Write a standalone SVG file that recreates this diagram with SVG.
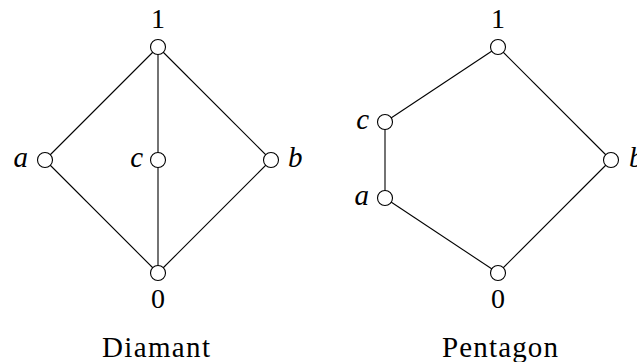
<svg xmlns="http://www.w3.org/2000/svg" width="637" height="362" viewBox="0 0 637 362">
<style>
.e{stroke:#000;stroke-width:1.1;fill:none}
.n{fill:#fff;stroke:#000;stroke-width:1.1}
.t{font-family:"Liberation Serif","Times New Roman",serif;font-size:28px;fill:#000}
.i{font-style:italic;font-size:29px}
.cap{font-size:29px}
</style>
<rect width="637" height="362" fill="#fff"/>
<g id="connectors">
<line class="e" x1="158" y1="47" x2="45" y2="160"/>
<line class="e" x1="158" y1="47" x2="158" y2="160"/>
<line class="e" x1="158" y1="47" x2="271" y2="160"/>
<line class="e" x1="45" y1="160" x2="158" y2="273"/>
<line class="e" x1="158" y1="160" x2="158" y2="273"/>
<line class="e" x1="271" y1="160" x2="158" y2="273"/>
<line class="e" x1="498" y1="47" x2="385" y2="122"/>
<line class="e" x1="385" y1="122" x2="385" y2="198"/>
<line class="e" x1="385" y1="198" x2="498" y2="273"/>
<line class="e" x1="498" y1="47" x2="611" y2="160"/>
<line class="e" x1="611" y1="160" x2="498" y2="273"/>
</g>
<g id="d1"><circle class="n" cx="158" cy="47" r="7.5"/><text class="t" x="158" y="28" text-anchor="middle">1</text></g>
<g id="da"><circle class="n" cx="45" cy="160" r="7.5"/><text class="t i" x="28" y="167" text-anchor="end">a</text></g>
<g id="dc"><circle class="n" cx="158" cy="160" r="7.5"/><text class="t i" x="143" y="167" text-anchor="end">c</text></g>
<g id="db"><circle class="n" cx="271" cy="160" r="7.5"/><text class="t i" x="288" y="167">b</text></g>
<g id="d0"><circle class="n" cx="158" cy="273" r="7.5"/><text class="t" x="158" y="308" text-anchor="middle">0</text></g>
<g id="p1"><circle class="n" cx="498" cy="47" r="7.5"/><text class="t" x="498" y="28" text-anchor="middle">1</text></g>
<g id="pc"><circle class="n" cx="385" cy="122" r="7.5"/><text class="t i" x="369" y="129" text-anchor="end">c</text></g>
<g id="pa"><circle class="n" cx="385" cy="198" r="7.5"/><text class="t i" x="369" y="205" text-anchor="end">a</text></g>
<g id="pb"><circle class="n" cx="611" cy="160" r="7.5"/><text class="t i" x="629" y="167">b</text></g>
<g id="p0"><circle class="n" cx="498" cy="273" r="7.5"/><text class="t" x="498" y="308" text-anchor="middle">0</text></g>
<g id="captions">
<text class="t cap" x="156" y="357" text-anchor="middle" textLength="108">Diamant</text>
<text class="t cap" x="500" y="357" text-anchor="middle" textLength="116">Pentagon</text>
</g>
</svg>
